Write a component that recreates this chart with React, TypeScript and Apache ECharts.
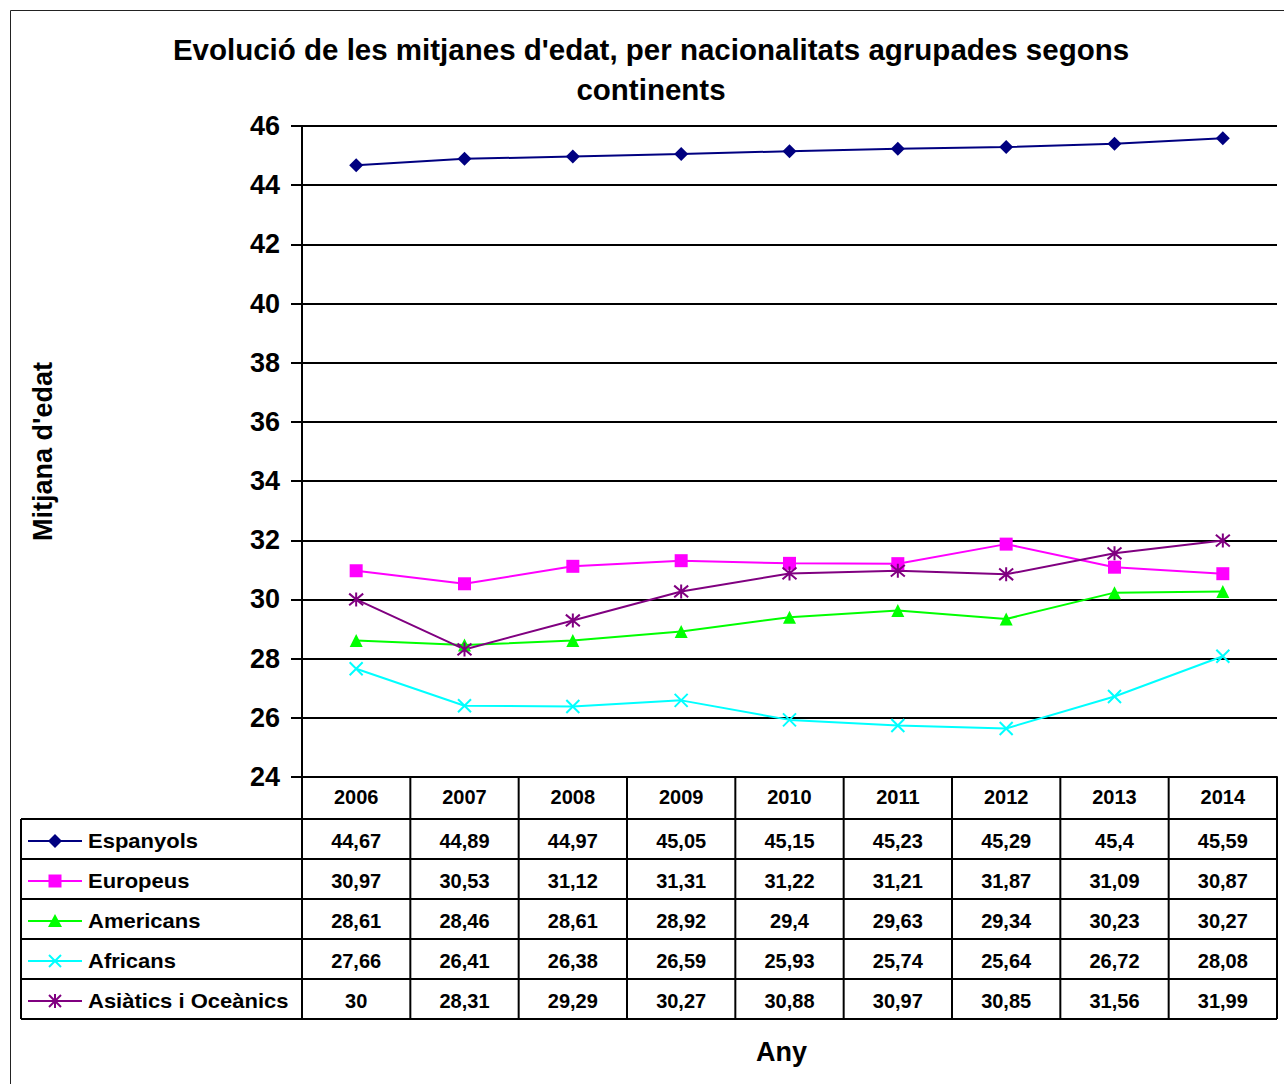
import React, { useEffect, useRef } from "react";
import * as echarts from "echarts";

const CATEGORIES = ["2006", "2007", "2008", "2009", "2010", "2011", "2012", "2013", "2014"];
const SERIES_NAMES = ["Espanyols", "Europeus", "Americans", "Africans", "Asiàtics i Oceànics"];
const ESPANYOLS = [44.67, 44.89, 44.97, 45.05, 45.15, 45.23, 45.29, 45.4, 45.59];
const EUROPEUS = [30.97, 30.53, 31.12, 31.31, 31.22, 31.21, 31.87, 31.09, 30.87];
const AMERICANS = [28.61, 28.46, 28.61, 28.92, 29.4, 29.63, 29.34, 30.23, 30.27];
const AFRICANS = [27.66, 26.41, 26.38, 26.59, 25.93, 25.74, 25.64, 26.72, 28.08];
const ASIATICS = [30, 28.31, 29.29, 30.27, 30.88, 30.97, 30.85, 31.56, 31.99];
const Y_MIN = 24;
const Y_MAX = 46;
const Y_STEP = 2;

const TITLE = "Evolució de les mitjanes d'edat, per nacionalitats agrupades segons\ncontinents";
const Y_NAME = "Mitjana d'edat";
const X_NAME = "Any";

const W = 1284;
const H = 1084;
const GL = 302;
const GR = 1277;
const GT = 126;
const GB = 777;
const HEADER_B = 819;
const ROW_H = 40;
const TABLE_L = 21;
const FONT = '"Liberation Sans", Arial, sans-serif';

const COLORS = ["#000080", "#FF00FF", "#00FF00", "#00FFFF", "#800080"];
const SYMBOLS = [
  "diamond",
  "rect",
  "triangle",
  "path://M0,0L10,10M10,0L0,10",
  "path://M0,0L10,10M10,0L0,10M5,-1L5,11",
];
const SYMBOL_SIZES = [14, 13, 13, 13, 14];

const fmt = (v: number) => String(v).replace(".", ",");

function legendMarker(i: number, cx: number, cy: number): any[] {
  const c = COLORS[i];
  const els: any[] = [
    { type: "line", shape: { x1: 28, y1: cy, x2: 82, y2: cy }, style: { stroke: c, lineWidth: 2 } },
  ];
  const s = 6;
  if (i === 0) {
    els.push({ type: "polygon", shape: { points: [[cx, cy - 7], [cx + 7, cy], [cx, cy + 7], [cx - 7, cy]] }, style: { fill: c } });
  } else if (i === 1) {
    els.push({ type: "rect", shape: { x: cx - 6.5, y: cy - 6.5, width: 13, height: 13 }, style: { fill: c } });
  } else if (i === 2) {
    els.push({ type: "polygon", shape: { points: [[cx, cy - 7], [cx + 7, cy + 6], [cx - 7, cy + 6]] }, style: { fill: c } });
  } else if (i === 3) {
    els.push({ type: "line", shape: { x1: cx - s, y1: cy - s, x2: cx + s, y2: cy + s }, style: { stroke: c, lineWidth: 2 } });
    els.push({ type: "line", shape: { x1: cx - s, y1: cy + s, x2: cx + s, y2: cy - s }, style: { stroke: c, lineWidth: 2 } });
  } else {
    els.push({ type: "line", shape: { x1: cx - s, y1: cy - s, x2: cx + s, y2: cy + s }, style: { stroke: c, lineWidth: 2 } });
    els.push({ type: "line", shape: { x1: cx - s, y1: cy + s, x2: cx + s, y2: cy - s }, style: { stroke: c, lineWidth: 2 } });
    els.push({ type: "line", shape: { x1: cx, y1: cy - 7, x2: cx, y2: cy + 7 }, style: { stroke: c, lineWidth: 2 } });
  }
  return els;
}

export default function App() {
  const ref = useRef<HTMLDivElement>(null);
  useEffect(() => {
    if (!ref.current) return;
    const chart = echarts.init(ref.current, null, { renderer: "svg" });
    const seriesValues = [ESPANYOLS, EUROPEUS, AMERICANS, AFRICANS, ASIATICS];
    const n = CATEGORIES.length;
    const cellW = (GR - GL) / n;

    const graphics: any[] = [];
    graphics.push({ type: "rect", shape: { x: 10.5, y: 10.5, width: W + 20, height: H + 20 }, style: { fill: "none", stroke: "#222", lineWidth: 1 }, silent: true });
    const lineStyle = { stroke: "#000", lineWidth: 2 };
    const rowsBottom = HEADER_B + ROW_H * SERIES_NAMES.length;
    for (let k = 0; k <= n; k++) {
      const x = GL + k * cellW;
      graphics.push({ type: "line", shape: { x1: x, y1: GB, x2: x, y2: rowsBottom }, style: lineStyle });
    }
    graphics.push({ type: "line", shape: { x1: TABLE_L, y1: HEADER_B, x2: TABLE_L, y2: rowsBottom }, style: lineStyle });
    for (let r = 0; r <= SERIES_NAMES.length; r++) {
      const y = HEADER_B + r * ROW_H;
      graphics.push({ type: "line", shape: { x1: TABLE_L, y1: y, x2: GR, y2: y }, style: lineStyle });
    }
    SERIES_NAMES.forEach((name, i) => {
      const cy = HEADER_B + ROW_H * i + ROW_H / 2 + 2;
      graphics.push(...legendMarker(i, 55, cy));
      graphics.push({
        type: "text",
        x: 88,
        y: cy,
        scaleX: 1.1,
        style: { text: name, x: 0, y: 0, align: "left", verticalAlign: "middle", fontSize: 20, fontWeight: "bold", fontFamily: FONT, fill: "#000" },
      });
      seriesValues[i].forEach((v, j) => {
        graphics.push({
          type: "text",
          style: { text: fmt(v), x: GL + (j + 0.5) * cellW, y: cy, align: "center", verticalAlign: "middle", fontSize: 20, fontWeight: "bold", fontFamily: FONT, fill: "#000" },
        });
      });
    });

    const option: any = {
      animation: false,
      backgroundColor: "#fff",
      title: {
        text: TITLE,
        left: 651,
        top: 29,
        textAlign: "center",
        padding: 0,
        textStyle: { fontSize: 29.5, fontWeight: "bold", fontFamily: FONT, color: "#000", lineHeight: 40 },
      },
      grid: { left: GL, right: W - GR, top: GT, bottom: H - GB, containLabel: false },
      xAxis: {
        type: "category",
        data: CATEGORIES,
        boundaryGap: true,
        name: X_NAME,
        nameLocation: "middle",
        nameGap: 261,
        nameTextStyle: { fontSize: 27, fontWeight: "bold", fontFamily: FONT, color: "#000", padding: [0, 16, 0, 0] },
        axisLine: { lineStyle: { color: "#000", width: 2 } },
        axisTick: { show: false },
        axisLabel: { margin: 20, verticalAlign: "middle", fontSize: 20, fontWeight: "bold", fontFamily: FONT, color: "#000" },
        splitLine: { show: false },
      },
      yAxis: {
        type: "value",
        min: Y_MIN,
        max: Y_MAX,
        interval: Y_STEP,
        name: Y_NAME,
        nameLocation: "middle",
        nameGap: 246,
        nameRotate: 90,
        nameTextStyle: { fontSize: 27, fontWeight: "bold", fontFamily: FONT, color: "#000" },
        axisLine: { show: true, lineStyle: { color: "#000", width: 2 } },
        axisTick: { show: true, length: 11, lineStyle: { color: "#000", width: 2 } },
        axisLabel: { margin: 22, fontSize: 27, fontWeight: "bold", fontFamily: FONT, color: "#000" },
        splitLine: { show: true, lineStyle: { color: "#000", width: 2 } },
      },
      series: SERIES_NAMES.map((name, i) => ({
        name,
        type: "line",
        data: seriesValues[i],
        color: COLORS[i],
        symbol: SYMBOLS[i],
        symbolSize: SYMBOL_SIZES[i],
        showAllSymbol: true,
        lineStyle: { color: COLORS[i], width: 2 },
        itemStyle: { color: i >= 3 ? "none" : COLORS[i], borderColor: COLORS[i], borderWidth: i >= 3 ? 2 : 0 },
        emphasis: { disabled: true },
      })),
      graphic: graphics,
    };
    chart.setOption(option);
    return () => chart.dispose();
  }, []);
  return <div ref={ref} style={{ position: "absolute", left: 0, top: 0, width: W, height: H }} />;
}
